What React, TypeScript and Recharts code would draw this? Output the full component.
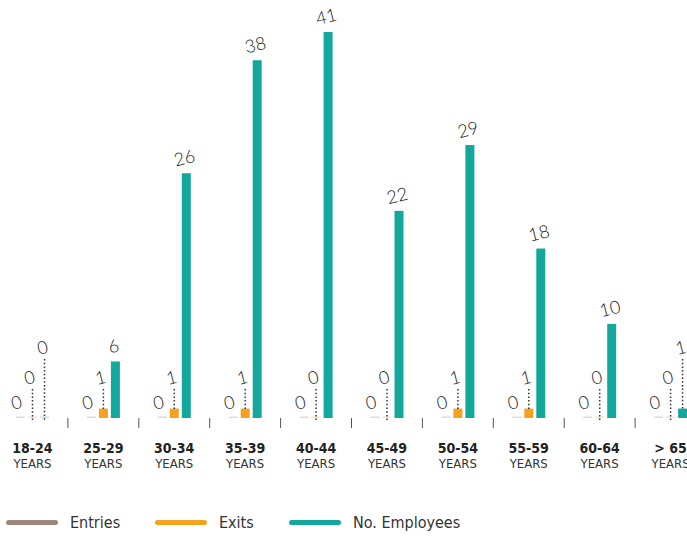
import React from "react";
import { BarChart, Bar, XAxis, YAxis } from "recharts";

const categories = ["18-24", "25-29", "30-34", "35-39", "40-44", "45-49", "50-54", "55-59", "60-64", "> 65"];
const entries = [0, 0, 0, 0, 0, 0, 0, 0, 0, 0];
const exits = [0, 1, 1, 1, 0, 0, 1, 1, 0, 0];
const employees = [0, 6, 26, 38, 41, 22, 29, 18, 10, 1];

const COLORS = { entries: "#9c887c", exits: "#f6a21e", employees: "#13a89b" };

const data = categories.map((age, i) => ({
  age,
  entries: entries[i],
  exits: exits[i],
  employees: employees[i],
}));

const CHART_W = 709;
const BAND = CHART_W / categories.length;
const NARROW = "'Liberation Sans Narrow', 'DejaVu Sans Condensed', 'Roboto', sans-serif";

// bar + staggered value label (with dotted leader when the label floats)
const makeShape = (key: string, color: string, lift: number, shift: number) => (props: any) => {
  const { x, y, width, height, payload } = props;
  const v = payload[key];
  const base = y + height;
  const cx = x + width / 2;
  const top = v > 0 ? y : base;
  const labelY = Math.min(top - 16, base - lift);
  const leader = top - labelY > 24;
  const lx = cx - shift;
  return (
    <g>
      {v > 0 ? (
        <rect x={x} y={y} width={width} height={height} fill={color} />
      ) : (
        <rect x={x} y={base - 1.5} width={width} height={1.5} fill={color} opacity={0.3} />
      )}
      {leader && (
        <line x1={cx} x2={cx} y1={labelY + 12} y2={top + 2} stroke="#333" strokeWidth={1.5} strokeDasharray="1.5 2.2" />
      )}
      <text
        x={lx}
        y={labelY}
        textAnchor="middle"
        dominantBaseline="central"
        fontFamily="Lato, 'DejaVu Sans', sans-serif"
        fontWeight={300}
        fontSize={18}
        fill="#222"
        transform={`rotate(-14 ${lx} ${labelY})`}
      >
        {v}
      </text>
    </g>
  );
};

const AgeTick = (props: any) => {
  const { x, y, payload, index } = props;
  return (
    <g>
      {index > 0 && <line x1={x - BAND / 2} x2={x - BAND / 2} y1={y} y2={y + 10} stroke="#555" strokeWidth={1} />}
      <text x={x} y={y + 35} textAnchor="middle" fontFamily={NARROW} fontWeight={700} fontSize={14} fill="#222">
        {payload.value}
      </text>
      <text x={x} y={y + 50} textAnchor="middle" fontFamily={NARROW} fontSize={13} fill="#333">
        YEARS
      </text>
    </g>
  );
};

const legendItems = [
  { label: "Entries", color: COLORS.entries, left: 6 },
  { label: "Exits", color: COLORS.exits, left: 155 },
  { label: "No. Employees", color: COLORS.employees, left: 289 },
];

export default function App() {
  return (
    <div style={{ position: "absolute", left: 0, top: 0, width: 687, height: 536, overflow: "hidden", background: "#fff" }}>
      <div style={{ position: "absolute", left: -3, top: 0 }}>
        <BarChart width={CHART_W} height={536} data={data} margin={{ top: 32, right: 0, bottom: 58, left: 0 }} barSize={9} barGap={3}>
          <XAxis dataKey="age" interval={0} tickLine={false} axisLine={false} tickSize={0} tickMargin={0} height={60} tick={<AgeTick />} />
          <YAxis hide domain={[0, 41]} />
          <Bar dataKey="entries" fill={COLORS.entries} isAnimationActive={false} shape={makeShape("entries", COLORS.entries, 15, 4)} />
          <Bar dataKey="exits" fill={COLORS.exits} isAnimationActive={false} shape={makeShape("exits", COLORS.exits, 41, 3)} />
          <Bar dataKey="employees" fill={COLORS.employees} isAnimationActive={false} shape={makeShape("employees", COLORS.employees, 71, 2)} />
        </BarChart>
      </div>
      {legendItems.map((it) => (
        <div key={it.label} style={{ position: "absolute", left: it.left, top: 510, height: 24, display: "flex", alignItems: "center" }}>
          <span style={{ display: "inline-block", width: 52, height: 5, borderRadius: 3, background: it.color }} />
          <span style={{ marginLeft: 12, fontFamily: NARROW, fontSize: 16, color: "#333" }}>{it.label}</span>
        </div>
      ))}
    </div>
  );
}
